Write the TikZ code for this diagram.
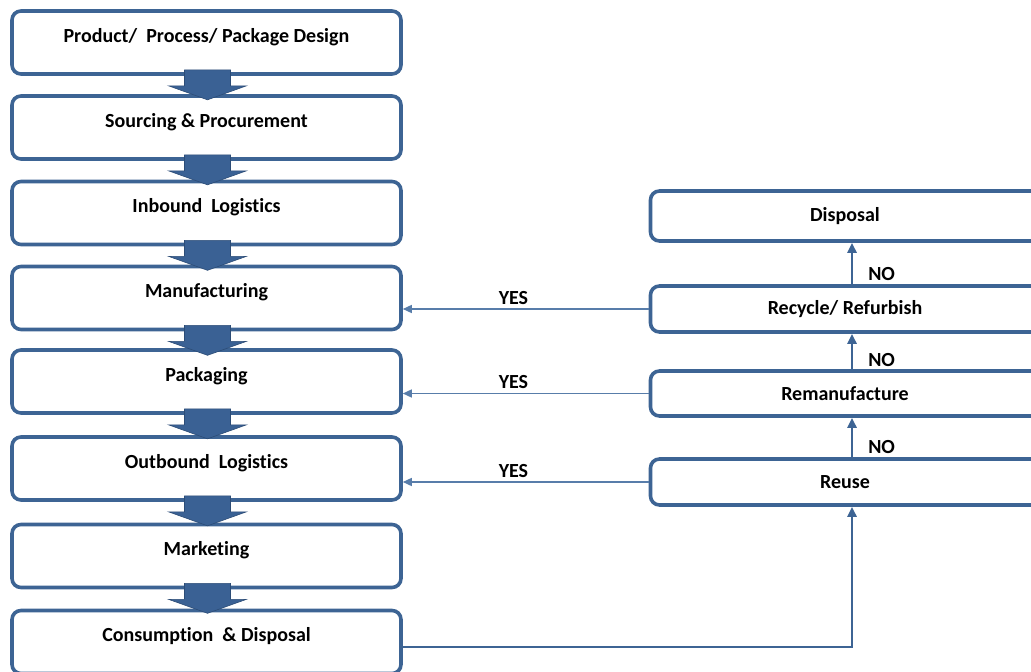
\documentclass[tikz,border=0pt]{standalone}
\usepackage{fontspec}
\setmainfont{Carlito}[Ligatures=NoCommon]
\usetikzlibrary{arrows.meta,calc}
\definecolor{frame}{HTML}{3D6494}
\definecolor{blockfill}{HTML}{3A6194}
\definecolor{blockedge}{HTML}{2C4C76}
\definecolor{thinline}{HTML}{587DAA}
\tikzset{
  stagebox/.style={draw=frame, line width=3.6pt, rounded corners=9pt, fill=white,
    minimum width=389pt, inner sep=0pt, font=\fontsize{20}{23}\selectfont\bfseries},
  lbl/.style={font=\fontsize{20}{23}\selectfont\bfseries, inner sep=1pt},
  yesarrow/.style={draw=thinline, line width=1.5pt, -{Triangle[length=9pt,width=8pt]}},
  noarrow/.style={draw=frame, line width=2.6pt, -{Triangle[length=10pt,width=9pt]}},
  feedline/.style={draw=frame, line width=2.6pt, -{Triangle[length=10pt,width=9pt]}},
  blockarrow/.style={fill=blockfill, draw=blockedge, line width=0.6pt},
  uppertext/.style={text height=8pt, text depth=9pt}
}
\begin{document}
\begin{tikzpicture}[x=1pt,y=-1pt]
\useasboundingbox (0,0) rectangle (1031,672);
\clip (0,0) rectangle (1031,672);

% main chain: labels sit a little above the middle of each box
\node[stagebox, uppertext, minimum height=63pt] (b1) at (206.5,42.5) {Product/\ \ Process/\ Package Design};
\node[stagebox, uppertext, minimum height=63pt] (b2) at (206.5,127.5) {Sourcing \& Procurement};
\node[stagebox, uppertext, minimum height=63pt] (b3) at (206.5,213) {Inbound\ \ Logistics};
\node[stagebox, uppertext, minimum height=63pt] (b4) at (206.5,298) {Manufacturing};
\node[stagebox, uppertext, minimum height=63pt] (b5) at (206.5,381.5) {Packaging};
\node[stagebox, uppertext, minimum height=63pt] (b6) at (206.5,468.5) {Outbound\ \ Logistics};
\node[stagebox, uppertext, minimum height=63pt] (b7) at (206.5,556) {Marketing};
\node[stagebox, uppertext, minimum height=63pt] (b8) at (206.5,642) {Consumption\ \ \&\ Disposal};

% block arrows between stages
\foreach \s in {b1,b2,b3,b4,b5,b6,b7}{
  \path[blockarrow] ($(\s.south)+(-22,-6)$) -- ++(46,0) -- ++(0,16) -- ++(16,0)
    -- ++(-39,14) -- ++(-39,-14) -- ++(16,0) -- cycle;
}

% end-of-life options
\node[stagebox, minimum height=50pt] (dis) at (845,216) {Disposal};
\node[stagebox, minimum height=46pt] (rec) at (845,309) {Recycle/ Refurbish};
\node[stagebox, minimum height=45pt] (rem) at (845,393.5) {Remanufacture};
\node[stagebox, minimum height=46pt] (reu) at (845,482) {Reuse};

% NO branches
\draw[noarrow] ([xshift=7pt]rec.north) -- node[lbl, pos=0.25, anchor=west, xshift=14pt]{NO} ([xshift=7pt]dis.south);
\draw[noarrow] ([xshift=7pt]rem.north) -- node[lbl, pos=0.25, anchor=west, xshift=14pt]{NO} ([xshift=7pt]rec.south);
\draw[noarrow] ([xshift=7pt]reu.north) -- node[lbl, pos=0.25, anchor=west, xshift=14pt]{NO} ([xshift=7pt]rem.south);

% YES branches
\draw[yesarrow] (rec.west) -- node[lbl, pos=0.55, above=3pt]{YES} (rec.west -| b4.east);
\draw[yesarrow] (rem.west) -- node[lbl, pos=0.55, above=3pt]{YES} (rem.west -| b5.east);
\draw[yesarrow] (reu.west) -- node[lbl, pos=0.55, above=3pt]{YES} (reu.west -| b6.east);

% return flow from consumption
\draw[feedline] ([yshift=-5pt]b8.east) -| ([xshift=7pt]reu.south);
\end{tikzpicture}
\end{document}
